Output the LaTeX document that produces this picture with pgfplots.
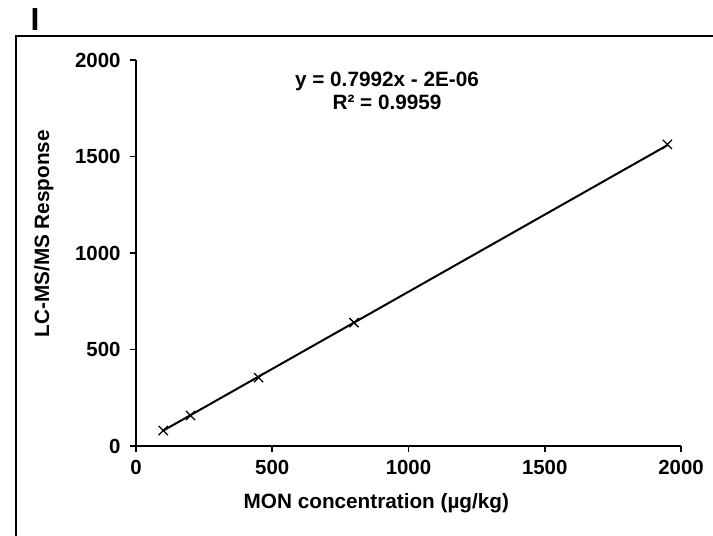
\documentclass[border=0pt]{standalone}
\usepackage{fontspec}
\setmainfont{Liberation Sans}
\usepackage{pgfplots}
\pgfplotsset{compat=1.18}
\begin{document}
\begin{tikzpicture}
\path[use as bounding box] (0bp,0bp) rectangle (713bp,536bp);
\draw[line width=1.6bp] (16bp,0bp) -- (16bp,500bp) -- (713bp,500bp);
\node[font=\fontsize{32}{32}\selectfont\bfseries, inner sep=0pt] at (35bp,516.5bp) {I};
\begin{axis}[
  at={(136bp,90bp)}, anchor=south west,
  scale only axis, width=545bp, height=386bp,
  xmin=0, xmax=2000, ymin=0, ymax=2000,
  axis x line=bottom, axis y line=left,
  axis line style={-, line width=2bp, black},
  tick align=outside, major tick length=6bp,
  tick style={line width=1.8bp, black},
  xtick={0,500,1000,1500,2000}, ytick={0,500,1000,1500,2000},
  /pgf/number format/assume math mode=true,
  /pgf/number format/1000 sep={},
  ticklabel style={font=\fontsize{20.5}{22}\selectfont\bfseries},
  xticklabel style={yshift=-5bp},
  yticklabel style={xshift=-6bp},
  xlabel={MON concentration (µg/kg)},
  ylabel={LC-MS/MS Response},
  label style={font=\fontsize{20.8}{22}\selectfont\bfseries},
  xlabel style={at={(axis description cs:0.441,-0.148)}, anchor=center},
  ylabel style={at={(axis description cs:-0.169,0.55)}, anchor=center},
  clip=false,
]
\addplot[black, line width=2bp, mark=none] coordinates {(100,79.9) (1950,1558.4)};
\addplot[black, only marks, mark=x, mark size=6.5bp, mark options={line width=1.3bp}] coordinates {
  (100,80) (200,158) (450,354) (800,639) (1950,1563)
};
\node[align=center, font=\fontsize{20.8}{23}\selectfont\bfseries] at (axis cs:921,1840) {y = 0.7992x - 2E-06\\R² = 0.9959};
\end{axis}
\end{tikzpicture}
\end{document}
